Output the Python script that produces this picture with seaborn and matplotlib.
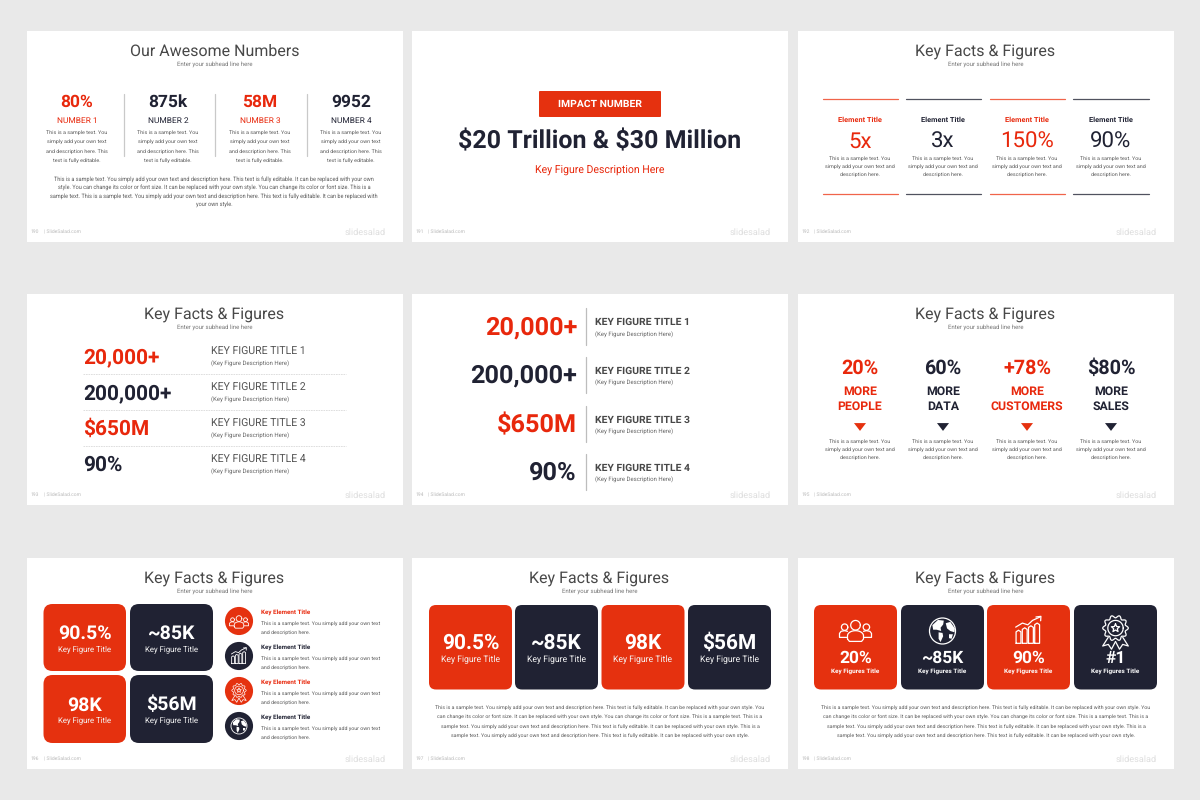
import numpy as np
import pandas as pd
import matplotlib
matplotlib.use("Agg")
import matplotlib.pyplot as plt
import seaborn as sns
from matplotlib.patches import Rectangle, FancyBboxPatch, Circle, Polygon

RED = "#e5310f"
RED_TEXT = "#e8280c"
DARK = "#202233"
TITLE_COLOR = "#484848"
BODY_COLOR = "#5a5a5a"
BG = "#e9e9e9"

# slide texts
SLIDE_TITLES = ["Our Awesome Numbers", None, "Key Facts & Figures", "Key Facts & Figures", None,
                "Key Facts & Figures", "Key Facts & Figures", "Key Facts & Figures", "Key Facts & Figures"]
SUBHEAD = "Enter your subhead line here"
PAGE_NUMBERS = ["190", "191", "192", "193", "194", "195", "196", "197", "198"]

S1_VALUES = ["80%", "875k", "58M", "9952"]
S1_LABELS = ["NUMBER 1", "NUMBER 2", "NUMBER 3", "NUMBER 4"]
S1_BODY = ["This is a sample text. You", "simply add your own text",
           "and description here. This", "text is fully editable."]
S1_PARAGRAPH = [
    "This is a sample text. You simply add your own text and description here. This text is fully editable. It can be replaced with your own",
    "style. You can change its color or font size. It can be replaced with your own style. You can change its color or font size. This is a",
    "sample text. This is a sample text. You simply add your own text and description here. This text is fully editable. It can be replaced with",
    "your own style.",
]

S2_BUTTON = "IMPACT NUMBER"
S2_HEADLINE = "$20 Trillion & $30 Million"
S2_CAPTION = "Key Figure Description Here"

S3_TITLE = "Element Title"
S3_VALUES = ["5x", "3x", "150%", "90%"]
SHORT_BODY = ["This is a sample text. You", "simply add your own text and", "description here."]

S4_VALUES = ["20,000+", "200,000+", "$650M", "90%"]
S4_TITLES = ["KEY FIGURE TITLE 1", "KEY FIGURE TITLE 2", "KEY FIGURE TITLE 3", "KEY FIGURE TITLE 4"]
S4_SUB = "(Key Figure Description Here)"

S6_VALUES = ["20%", "60%", "+78%", "$80%"]
S6_LINE1 = ["MORE", "MORE", "MORE", "MORE"]
S6_LINE2 = ["PEOPLE", "DATA", "CUSTOMERS", "SALES"]

CARD_VALUES = ["90.5%", "~85K", "98K", "$56M"]
CARD_LABEL = "Key Figure Title"
S7_ELEMENT = "Key Element Title"
S7_BODY = ["This is a sample text. You simply add your own text", "and description here."]

S9_VALUES = ["20%", "~85K", "90%", "#1"]
S9_LABEL = "Key Figures Title"

WIDE_PARAGRAPH = [
    "This is a sample text. You simply add your own text and description here. This text is fully editable. It can be replaced with your own style. You",
    "can change its color or font size. It can be replaced with your own style. You can change its color or font size. This is a sample text. This is a",
    "sample text. You simply add your own text and description here. This text is fully editable. It can be replaced with your own style. This is a",
    "sample text. You simply add your own text and description here. This text is fully editable. It can be replaced with your own style.",
]

# slide grid in pixels
PANEL_X = [27, 412, 798]
PANEL_Y = [31, 294, 558]
PANEL_W = 376
PANEL_H = 211
ALT = [RED, DARK, RED, DARK]
ALT_TEXT = [RED_TEXT, DARK, RED_TEXT, DARK]

sns.set_theme(style="white")
plt.rcParams["font.family"] = ["Roboto", "DejaVu Sans"]
plt.rcParams["text.hinting"] = "no_hinting"

fig = plt.figure(figsize=(12, 8), dpi=100, facecolor=BG)
ax = fig.add_axes([0, 0, 1, 1])
ax.set_axis_off()


def txt(x, y, s, size, color=BODY_COLOR, weight="normal", ha="center"):
    # va=center sits a bit high for digits, push down with the font size
    ax.text(x, y + 0.09 * size, s, fontsize=size, color=color, fontweight=weight, ha=ha, va="center",
            zorder=5, parse_math=False)


def card(x0, y0, x1, y1, color, radius=7):
    ax.add_patch(FancyBboxPatch((x0, y0), x1 - x0, y1 - y0, boxstyle=f"round,pad=0,rounding_size={radius}",
                                fc=color, ec="none", zorder=2))


def curve(xs, ys, color, lw):
    ax.plot(xs, ys, color=color, lw=lw, solid_capstyle="round", zorder=6)


def icon_people(cx, cy, r, color="white", lw=0.9):
    t = np.linspace(0, 2 * np.pi, 40)
    for dx, dy, head in [(-0.68, -0.24, 0.2), (0.68, -0.24, 0.2), (0, -0.36, 0.3)]:
        curve(cx + r * (dx + head * np.cos(t)), cy + r * (dy + head * np.sin(t)), color, lw)
    # middle body, closed at the bottom
    arc = np.linspace(np.pi, 2 * np.pi, 20)
    curve(cx + r * np.r_[-0.5, 0.5 * np.cos(arc), 0.5, 0.38, -0.38, -0.5],
          cy + r * np.r_[0.5, 0.3 + 0.32 * np.sin(arc), 0.5, 0.65, 0.65, 0.5], color, lw)
    # side bodies, open towards the middle
    for sign in [-1, 1]:
        curve(cx + r * sign * np.array([0.5, 0.68, 0.9, 1.0, 1.0, 0.55]),
              cy + r * np.array([0.02, -0.02, 0.02, 0.15, 0.4, 0.4]), color, lw)


def icon_growth(cx, cy, r, color="white", lw=0.9):
    lefts = [-0.92, -0.46, 0.0, 0.46]
    tops = [-0.02, -0.2, -0.35, -0.55]
    for left, top in zip(lefts, tops):
        w = 0.36
        curve(cx + r * np.array([left, left, left + w / 2, left + w, left + w, left]),
              cy + r * np.array([0.95, top + 0.12, top, top + 0.12, 0.95, 0.95]), color, lw)
    curve(cx + r * np.array([-0.95, -0.45, -0.05, 0.3, 0.85]),
          cy + r * np.array([-0.25, -0.55, -0.42, -0.75, -1.0]), color, lw)
    curve(cx + r * np.array([0.55, 0.92, 0.9]), cy + r * np.array([-1.0, -1.05, -0.72]), color, lw)


def icon_globe(cx, cy, r, color="white", lw=0.9):
    ax.add_patch(Circle((cx, cy), r, fc="none", ec=color, lw=lw, zorder=6))
    blobs = [
        [(-0.78, -0.45), (-0.35, -0.85), (0.1, -0.8), (0.05, -0.5), (-0.15, -0.25), (-0.1, 0.0), (-0.45, -0.1), (-0.72, -0.1)],
        [(-0.3, 0.1), (0.0, 0.15), (0.05, 0.4), (-0.15, 0.85), (-0.3, 0.6)],
        [(0.25, -0.6), (0.6, -0.7), (0.95, -0.2), (0.92, 0.1), (0.6, 0.0), (0.35, -0.2)],
        [(0.5, 0.25), (0.8, 0.25), (0.7, 0.6), (0.5, 0.55)],
    ]
    for blob in blobs:
        ax.add_patch(Polygon([(cx + r * a, cy + r * b) for a, b in blob], fc=color, ec="none", zorder=6))


def icon_badge(cx, cy, r, fill, color="white", lw=0.9):
    # ribbon first, the wavy rosette sits above it
    for sign in [-1, 1]:
        curve(cx + r * sign * np.array([0.45, 0.8, 0.45, 0.25, 0.0]),
              cy + r * np.array([0.45, 1.0, 0.9, 1.2, 0.72]), color, lw)
    t = np.linspace(0, 2 * np.pi, 121)
    wavy = 0.72 + 0.08 * np.cos(10 * t)
    ax.fill(cx + r * wavy * np.cos(t), cy - 0.12 * r + r * wavy * np.sin(t), fc=fill, ec=color, lw=lw, zorder=6)
    curve(cx + 0.48 * r * np.cos(t), cy - 0.12 * r + 0.48 * r * np.sin(t), color, lw)
    angles = np.linspace(-np.pi / 2, 1.5 * np.pi, 11)
    radius = np.where(np.arange(11) % 2 == 0, 0.27, 0.12)
    curve(cx + r * radius * np.cos(angles), cy - 0.12 * r + r * radius * np.sin(angles), color, lw)


# white slides, footers and logos
for i, (y0, x0) in enumerate((y, x) for y in PANEL_Y for x in PANEL_X):
    ax.add_patch(Rectangle((x0, y0), PANEL_W, PANEL_H, fc="white", ec="none", zorder=1))
    if SLIDE_TITLES[i]:
        txt(x0 + 187.5, y0 + 19.5, SLIDE_TITLES[i], 11.5, TITLE_COLOR)
        txt(x0 + 187.5, y0 + 33, SUBHEAD, 4.3, "#777777")
    txt(x0 + 4, y0 + 200.5, PAGE_NUMBERS[i], 3.6, "#bbbbbb", ha="left")
    txt(x0 + 16.5, y0 + 200.5, "| SlideSalad.com", 3.6, "#bbbbbb", ha="left")
    txt(x0 + 358.5, y0 + 200.5, "slidesalad", 6.6, "#dedede", ha="right")

# slide 1
for k, cx in enumerate([77, 168, 260, 351]):
    txt(cx, 101, S1_VALUES[k], 12.5, ALT_TEXT[k], "bold")
    txt(cx, 120, S1_LABELS[k], 6, ALT_TEXT[k])
    for line, y in zip(S1_BODY, [132, 141.5, 151, 160]):
        txt(cx, y, line, 3.85)
for x in [124, 215, 306.5]:
    ax.plot([x, x], [94, 156], color="#c9c9c9", lw=0.9, zorder=3)
for line, y in zip(S1_PARAGRAPH, [178.5, 187, 195.5, 204]):
    txt(214, y, line, 4.0)

# slide 2
card(539, 91, 661, 117, RED, radius=1)
txt(600, 103.5, S2_BUTTON, 7.5, "white", "bold")
txt(600, 140, S2_HEADLINE, 18, DARK, "bold")
txt(600, 170.5, S2_CAPTION, 7.6, RED_TEXT)

# slide 3
centers = [860, 943, 1027, 1111]
spans = [(823, 898), (906, 981), (990, 1065), (1073, 1149)]
for k, cx in enumerate(centers):
    for y in [98.5, 193.5]:
        ax.plot(spans[k], [y, y], color="#f0644a" if k % 2 == 0 else "#50525f", lw=0.9, zorder=3)
    txt(cx, 119.5, S3_TITLE, 5.3, ALT_TEXT[k], "bold")
    txt(cx, 140.5, S3_VALUES[k], 16, ALT_TEXT[k])
    for line, y in zip(SHORT_BODY, [158.5, 166.5, 174.5]):
        txt(cx, y, line, 3.85)

# slide 4
for k, y in enumerate([356, 392, 428, 464]):
    txt(83, y, S4_VALUES[k], 15, ALT_TEXT[k], "bold", ha="left")
    txt(211, y - 5, S4_TITLES[k], 7.6, "#555555", ha="left")
    txt(211, y + 7.5, S4_SUB, 4.3, "#666666", ha="left")
    if k < 3:
        ax.plot([83, 346], [y + 18, y + 18], color="#d9d9d9", lw=0.6, ls=(0, (2, 1)), zorder=3)

# slide 5
for k, y in enumerate([326, 374.5, 423.5, 471.5]):
    txt(577, y, S4_VALUES[k], 18.2, ALT_TEXT[k], "bold", ha="right")
    txt(595, y - 4.5, S4_TITLES[k], 7.5, "#484848", "bold", ha="left")
    txt(595, y + 8.5, S4_SUB, 4.3, "#666666", ha="left")
    ax.plot([586, 586], [y - 18, y + 18.5], color="#bdbdbd", lw=0.9, zorder=3)

# slide 6
triangles = pd.DataFrame({"x": centers, "y": [427] * 4, "group": ["red", "dark", "red", "dark"]})
sns.scatterplot(data=triangles, x="x", y="y", hue="group", palette={"red": RED, "dark": DARK},
                marker=[(-1, 0.65), (1, 0.65), (0, -0.65)], s=75, linewidth=0, legend=False, ax=ax, zorder=4)
for k, cx in enumerate(centers):
    txt(cx, 367.5, S6_VALUES[k], 14.2, ALT_TEXT[k], "bold")
    txt(cx, 391, S6_LINE1[k], 8.8, ALT_TEXT[k], "bold")
    txt(cx, 406, S6_LINE2[k], 8.8, ALT_TEXT[k], "bold")
    for line, y in zip(SHORT_BODY, [441, 449.5, 457.5]):
        txt(cx, y, line, 3.85)

# slide 7
slots = [(43.5, 604, 126, 671), (130, 604, 213, 671), (43.5, 675, 126, 743), (130, 675, 213, 743)]
for k, (a, b, c, d) in enumerate(slots):
    card(a, b, c, d, ALT[k], radius=9)
    txt((a + c) / 2, (b + d) / 2 - 5, CARD_VALUES[k], 14, "white", "bold")
    txt((a + c) / 2, (b + d) / 2 + 11, CARD_LABEL, 5.6, "#f5f5f5")
rows = [621, 656, 691, 726]
badges = pd.DataFrame({"x": [239] * 4, "y": rows, "group": ["red", "dark", "red", "dark"]})
sns.scatterplot(data=badges, x="x", y="y", hue="group", palette={"red": RED, "dark": DARK},
                marker="o", s=410, linewidth=0, legend=False, ax=ax, zorder=4)
for k, y in enumerate(rows):
    txt(261, y - 9, S7_ELEMENT, 4.5, ALT_TEXT[k], "bold", ha="left")
    txt(261, y + 2, S7_BODY[0], 3.8, ha="left")
    txt(261, y + 11.5, S7_BODY[1], 3.8, ha="left")
icon_people(239, 622, 9.5, lw=0.6)
icon_growth(239, 656, 8, lw=0.6)
icon_badge(239, 691.5, 9, RED, lw=0.5)
icon_globe(239, 726, 8, lw=0.6)

# slide 8
wide_cards = [(429, 512), (515, 598), (601.5, 684.5), (688, 771)]
for k, (a, c) in enumerate(wide_cards):
    card(a, 605, c, 689.5, ALT[k], radius=7)
    txt((a + c) / 2, 642, CARD_VALUES[k], 15, "white", "bold")
    txt((a + c) / 2, 659.5, CARD_LABEL, 6.2, "#f5f5f5")
for line, y in zip(WIDE_PARAGRAPH, [707, 716.5, 726, 735]):
    txt(600, y, line, 3.78)

# slide 9
wide_cards = [(814, 897), (901, 984), (987, 1070), (1074, 1157)]
for k, (a, c) in enumerate(wide_cards):
    card(a, 605, c, 689.5, ALT[k], radius=7)
    txt((a + c) / 2, 657.5, S9_VALUES[k], 12.5, "white", "bold")
    txt((a + c) / 2, 671, S9_LABEL, 4.6, "white", "bold")
for line, y in zip(WIDE_PARAGRAPH, [707, 716.5, 726, 735]):
    txt(986, y, line, 3.78)
icon_people(855.5, 631, 16)
icon_globe(942.5, 631, 13)
icon_growth(1028.5, 630.5, 13.5)
icon_badge(1115.5, 630, 16, DARK)

ax.set_xlim(0, 1200)
ax.set_ylim(800, 0)
ax.set_xlabel("")
ax.set_ylabel("")
fig.savefig("out.png", dpi=100, facecolor=BG)
